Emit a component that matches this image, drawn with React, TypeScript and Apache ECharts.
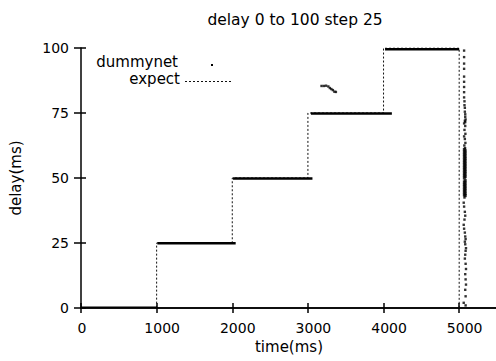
import React, { useEffect, useRef } from 'react';
import * as echarts from 'echarts';

const titleText = 'delay 0 to 100 step 25';
const xName = 'time(ms)';
const yName = 'delay(ms)';
const legendNames = ['dummynet', 'expect'];
const xTickLabels = ['0', '1000', '2000', '3000', '4000', '5000'];
const yTickLabels = ['0', '25', '50', '75', '100'];

// expected delay (step function)
const expectX = [0, 1000, 1000, 2000, 2000, 3000, 3000, 4000, 4000, 5000, 5000, 5500];
const expectY = [0, 0, 25, 25, 50, 50, 75, 75, 100, 100, 0, 0];

// dummynet measured: dense runs on each level
const runStart = [0, 1010, 2010, 3040, 4020];
const runEnd = [1000, 2045, 3060, 4110, 5000];
const runLevel = [0.3, 24.9, 49.8, 74.8, 99.5];

// dummynet stray samples
const strayX = [3180, 3210, 3240, 3270, 3290, 3310, 3330, 3350, 3370];
const strayY = [85.4, 85.4, 85.5, 85.2, 84.6, 84.2, 83.8, 83.2, 83.1];

// dummynet samples during the transition near 5000 ms (sparse parts)
const stripX = [
  5065, 5065, 5065, 5065, 5065, 5065, 5065, 5065, 5065, 5070, 5070, 5075, 5075, 5080, 5080, 5085, 5075, 5080,
  5065, 5080, 5070, 5082, 5065, 5075, 5082, 5068, 5078,
  5070, 5060, 5065, 5075, 5080, 5070, 5060, 5065, 5075, 5080, 5085, 5075, 5080, 5090, 5085, 5080, 5075, 5085,
  5090, 5080, 5085, 5090, 5080, 5085, 5060, 5085,
];
const stripY = [
  99, 96.5, 94, 92, 89, 87, 85, 83, 81, 79.5, 78, 77, 75.5, 74.5, 73.5, 72.5, 72, 71.5,
  71, 70, 68.5, 67, 66, 65, 63.5, 62.5, 61.5,
  42.5, 40.5, 39, 37, 35.5, 34, 32, 30.5, 29, 27.5, 26.5, 25.5, 24.5, 23, 22, 20.5, 19, 17,
  15, 13, 11, 9, 7, 4.5, 2, 1,
];

// dense cluster of dummynet samples (44..61 ms) near 5000 ms
const denseX = [
  5068, 5080, 5068, 5080, 5068, 5080, 5068, 5080, 5068, 5080, 5068, 5080, 5068, 5080, 5068, 5080, 5068, 5080,
  5068, 5080, 5068, 5080, 5068, 5080, 5068, 5080, 5068, 5080, 5068, 5080, 5068, 5080, 5068, 5080, 5068, 5080,
];
const denseY = [
  61, 60.5, 60, 59.5, 59, 58.5, 58, 57.5, 57, 56.5, 56, 55.5, 55, 54.5, 54, 53.5, 53, 52.5,
  52, 51.5, 51, 50.5, 50, 49, 48.5, 48, 47.5, 47, 46.5, 46, 45.5, 45, 44.5, 44, 43.5, 43.2,
];

const FONT = 'DejaVu Sans';

export default function App() {
  const ref = useRef<HTMLDivElement>(null);
  useEffect(() => {
    if (!ref.current) return;
    const chart = echarts.init(ref.current, null, { renderer: 'svg' });
    const axisLineStyle = { color: '#000', width: 1.5 };
    const runSeries = runStart.map((s, i) => ({
      type: 'line',
      name: legendNames[0],
      data: [[s, runLevel[i]], [runEnd[i], runLevel[i]]],
      showSymbol: false,
      lineStyle: { color: '#000', width: i === 0 ? 1.5 : 2.5 },
      z: 3,
      silent: true,
    }));
    const xLabelFmt = (v: number) => {
      const s = xTickLabels.find((t) => Number(t) === v);
      if (s === undefined) return '';
      return s.length > 1 ? `{w|${s}}` : `{n|${s}}`;
    };
    const yLabelFmt = (v: number) => {
      const s = yTickLabels.find((t) => Number(t) === v);
      return s === undefined ? '' : s;
    };
    const option: any = {
      animation: false,
      grid: { left: 81, top: 48, width: 416, height: 260, outerBoundsMode: 'none', containLabel: false },
      xAxis: [
        {
          type: 'value', min: 0, max: 5500, interval: 1000, position: 'bottom',
          axisLine: { lineStyle: axisLineStyle },
          axisTick: { inside: true, length: 5, lineStyle: axisLineStyle },
          splitLine: { show: false },
          axisLabel: {
            formatter: xLabelFmt, margin: 13, color: '#000',
            fontFamily: FONT, fontSize: 14,
            rich: {
              w: { padding: [0, 0, 0, 11], fontFamily: FONT, fontSize: 14, color: '#000' },
              n: { padding: [0, 0, 0, 2], fontFamily: FONT, fontSize: 14, color: '#000' },
            },
          },
          name: xName, nameLocation: 'middle', nameGap: 30,
          nameTextStyle: { fontFamily: FONT, fontSize: 15, color: '#000' },
        },
        {
          type: 'value', min: 0, max: 5500, interval: 1000, position: 'top',
          axisLine: { lineStyle: axisLineStyle },
          axisTick: { inside: true, length: 5, lineStyle: axisLineStyle },
          splitLine: { show: false },
          axisLabel: { show: false },
        },
      ],
      yAxis: [
        {
          type: 'value', min: 0, max: 100, interval: 25, position: 'left',
          axisLine: { lineStyle: axisLineStyle },
          axisTick: { inside: true, length: 5, lineStyle: axisLineStyle },
          splitLine: { show: false },
          axisLabel: { formatter: yLabelFmt, margin: 12, color: '#000', fontFamily: FONT, fontSize: 14 },
          name: yName, nameLocation: 'middle', nameGap: 58,
          nameTextStyle: { fontFamily: FONT, fontSize: 15, color: '#000' },
        },
        {
          type: 'value', min: 0, max: 100, interval: 25, position: 'right',
          axisLine: { show: true, lineStyle: { color: 'rgba(0,0,0,0)', width: 1.5 } },
          axisTick: { show: true, inside: true, length: 7, lineStyle: { color: '#000', width: 1.5 } },
          splitLine: { show: false },
          axisLabel: { show: false },
        },
      ],
      series: [
        {
          type: 'line',
          name: legendNames[1],
          data: expectX.map((x, i) => [x, expectY[i]]),
          showSymbol: false,
          lineStyle: { color: '#111', width: 1, type: [2, 2] },
          z: 2,
          silent: true,
        },
        ...runSeries,
        {
          type: 'scatter',
          name: legendNames[0],
          data: [
            ...strayX.map((x, i) => [x, strayY[i]]),
            ...stripX.map((x, i) => [x, stripY[i]]),
          ],
          symbol: 'rect',
          symbolSize: 2.4,
          itemStyle: { color: '#000' },
          z: 4,
          silent: true,
        },
        {
          type: 'scatter',
          name: legendNames[0],
          data: denseX.map((x, i) => [x, denseY[i]]),
          symbol: 'rect',
          symbolSize: 3,
          itemStyle: { color: '#000' },
          z: 4,
          silent: true,
        },
      ],
      graphic: [
        {
          type: 'text', x: 295, y: 20,
          style: { text: titleText, font: `15.5px "${FONT}"`, fill: '#000', align: 'center', verticalAlign: 'middle' },
        },
        {
          type: 'text', x: 178, y: 61.6,
          style: { text: legendNames[0], font: `15px "${FONT}"`, fill: '#000', align: 'right', verticalAlign: 'middle' },
        },
        { type: 'rect', shape: { x: 211, y: 64, width: 2, height: 2 }, style: { fill: '#000' } },
        {
          type: 'text', x: 180, y: 79.4,
          style: { text: legendNames[1], font: `15px "${FONT}"`, fill: '#000', align: 'right', verticalAlign: 'middle' },
        },
        {
          type: 'line', shape: { x1: 185, y1: 81.5, x2: 232, y2: 81.5 },
          style: { stroke: '#111', lineWidth: 1, lineDash: [2, 2] },
        },
      ],
    };
    chart.setOption(option);
    return () => chart.dispose();
  }, []);
  return (
    <div
      ref={ref}
      style={{ position: 'absolute', left: 0, top: 0, width: 496, height: 361, background: '#fff' }}
    />
  );
}
